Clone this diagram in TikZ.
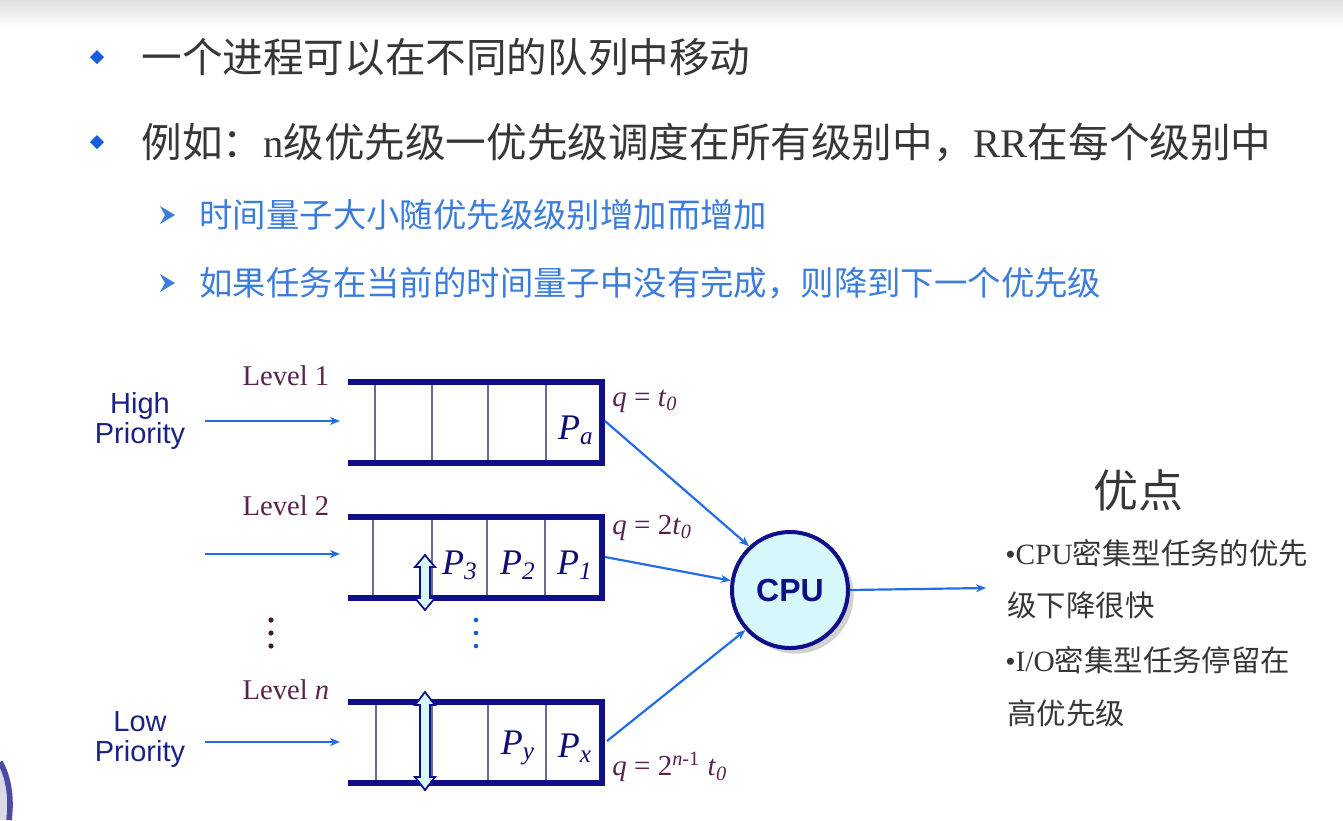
\documentclass[tikz,border=0pt]{standalone}
\usepackage{fontspec}
\setmainfont{Liberation Serif}
\newfontfamily\cjk{Noto Sans CJK SC}
\newfontfamily\arialf{Liberation Sans}
\usetikzlibrary{arrows.meta,shadows}

\definecolor{bodygray}{RGB}{55,55,55}
\definecolor{subblue}{RGB}{60,125,220}
\definecolor{dotblue}{RGB}{20,95,215}
\definecolor{navy}{RGB}{15,15,135}
\definecolor{divc}{RGB}{105,105,155}
\definecolor{arrowblue}{RGB}{35,110,230}
\definecolor{levelc}{RGB}{90,35,75}
\definecolor{prioc}{RGB}{25,35,130}
\definecolor{cyanfill}{RGB}{215,248,250}

\tikzset{
  qbar/.style={draw=navy, line width=3.2pt, line join=miter},
  qdiv/.style={draw=divc, line width=0.7pt},
  flow/.style={draw=arrowblue, line width=1.1pt, -{Stealth[length=5pt,width=4pt]}},
  txt/.style={inner sep=0pt, anchor=west},
  lvl/.style={inner sep=0pt, text=levelc, font=\fontsize{14.3}{16}\selectfont},
  pl/.style={inner sep=0pt, text=navy!85!black, font=\itshape\fontsize{18}{20}\selectfont},
  ql/.style={txt, text=levelc, font=\fontsize{14.5}{16}\selectfont},
  prio/.style={inner sep=0pt, align=center, text=prioc, font=\arialf\fontsize{14.5}{15}\selectfont},
  dbl/.style={fill=cyanfill, draw=navy, line width=0.9pt, line join=miter},
}

\begin{document}
\begin{tikzpicture}[x=0.5pt, y=-0.5pt]
\useasboundingbox (0,0) rectangle (1343,820);
\fill[white] (0,0) rectangle (1343,820);
\shade[top color=black!12, bottom color=white] (0,0) rectangle (1343,28);

% partial decoration at the lower left edge
\fill[blue!15!gray!25] (0,762) .. controls (8,776) and (12,796) .. (9,820) -- (0,820) -- cycle;
\draw[navy!75, line width=2.8pt] (0,762) .. controls (8,776) and (12,796) .. (9,820);

% ---------- bullet list ----------
\fill[dotblue] (97,50) -- (104,57) -- (97,64) -- (90,57) -- cycle;
\node[txt, text=bodygray, font=\cjk\fontsize{20.3}{24}\selectfont] (b1) at (141,57)
  {一个进程可以在不同的队列中移动};
\fill[dotblue] (97,135) -- (104,142) -- (97,149) -- (90,142) -- cycle;
\node[txt, text=bodygray, font=\fontsize{20.3}{24}\selectfont] (b2) at (141,142)
  {{\cjk 例如：}n{\cjk 级优先级一优先级调度在所有级别中，}RR{\cjk 在每个级别中}};

\fill[subblue] (160,206) -- (175,215) -- (160,224) -- (165,215) -- cycle;
\node[txt, text=subblue, font=\cjk\fontsize{16.7}{20}\selectfont] (s1) at (199,215)
  {时间量子大小随优先级级别增加而增加};
\fill[subblue] (160,274) -- (175,283) -- (160,292) -- (165,283) -- cycle;
\node[txt, text=subblue, font=\cjk\fontsize{16.7}{20}\selectfont] (s2) at (199,283)
  {如果任务在当前的时间量子中没有完成，则降到下一个优先级};

% ---------- priority labels ----------
\node[prio] (hp) at (140,421) {High\\Priority};
\node[prio] (lp) at (140,740) {Low\\Priority};

% ---------- level labels ----------
\node[lvl] (l1) at (286,376) {Level 1};
\node[lvl] (l2) at (286,506) {Level 2};
\node[lvl] (ln) at (286,690) {Level \textit{n}};

% ---------- queues ----------
% level 1
\foreach \x in {375,432,488,546} \draw[qdiv] (\x,382) -- (\x,463);
\draw[qbar] (348,382) -- (602,382) -- (602,463) -- (348,463);
% level 2
\foreach \x in {373,432,487,545} \draw[qdiv] (\x,517) -- (\x,598);
\draw[qbar] (348,517) -- (602,517) -- (602,598) -- (348,598);
% level n
\foreach \x in {376,432,488,546} \draw[qdiv] (\x,702) -- (\x,783);
\draw[qbar] (348,702) -- (602,702) -- (602,783) -- (348,783);

% process labels
\node[pl] (pa) at (576,430) {P\textsubscript{a}};
\node[pl] (p3) at (460,565) {P\textsubscript{3}};
\node[pl] (p2) at (518,565) {P\textsubscript{2}};
\node[pl] (p1) at (575,565) {P\textsubscript{1}};
\node[pl] (py) at (518,748) {P\textsubscript{y}};
\node[pl] (px) at (575,748) {P\textsubscript{x}};

% double-headed moves between levels
\draw[dbl] (425,555) -- (435,567) -- (430,567) -- (430,598) -- (435,598) -- (425,610)
  -- (415,598) -- (420,598) -- (420,567) -- (415,567) -- cycle;
\draw[dbl] (425,692) -- (435,705) -- (430,705) -- (430,777) -- (435,777) -- (425,790)
  -- (415,777) -- (420,777) -- (420,705) -- (415,705) -- cycle;

% vertical ellipses
\foreach \y in {620,633,646} {
  \fill[levelc!70!black] (271,\y) circle (2.6);
  \fill[dotblue] (476,\y) circle (2.3);
}

% quantum labels
\node[ql] (q1) at (612,401) {\textit{q} = \textit{t}\textsubscript{\textit{0}}};
\node[ql] (q2) at (612,528) {\textit{q} = 2\textit{t}\textsubscript{\textit{0}}};
\node[ql] (qn) at (612,767) {\textit{q} = 2\textsuperscript{\textit{n}-1} \textit{t}\textsubscript{\textit{0}}};

% ---------- CPU ----------
\node[circle, minimum size=58pt, inner sep=0pt, fill=cyanfill, draw=navy, line width=2pt,
  drop shadow={shadow xshift=2.8pt, shadow yshift=-2.8pt, fill=black!35},
  text=navy, font=\arialf\bfseries\fontsize{16}{18}\selectfont] (cpu) at (790,590) {CPU};

% ---------- connectors ----------
\coordinate (in1) at (205,421);
\coordinate (in2) at (205,554);
\coordinate (inn) at (205,742);
\coordinate (e1) at (340,421);
\coordinate (e2) at (340,554);
\coordinate (en) at (340,742);
\draw[flow] (in1) -- (e1);
\draw[flow] (in2) -- (e2);
\draw[flow] (inn) -- (en);

\coordinate (o1) at (605,421);
\coordinate (o2) at (605,557);
\coordinate (on) at (607,741);
\draw[flow] (o1) -- (cpu.133);
\draw[flow] (o2) -- (cpu.171);
\draw[flow] (on) -- (cpu.222);

\coordinate (out) at (986,588);
\draw[flow] (cpu.east) -- (out);

% ---------- advantages ----------
\node[inner sep=0pt, text=bodygray, font=\cjk\fontsize{22.5}{26}\selectfont] (adv) at (1138,490) {优点};
\node[txt, text=bodygray, font=\fontsize{14.7}{18}\selectfont] (a1) at (1005,553)
  {•CPU{\cjk 密集型任务的优先}};
\node[txt, text=bodygray, font=\cjk\fontsize{14.7}{18}\selectfont] (a2) at (1007,605)
  {级下降很快};
\node[txt, text=bodygray, font=\fontsize{14.7}{18}\selectfont] (a3) at (1005,660)
  {•I/O{\cjk 密集型任务停留在}};
\node[txt, text=bodygray, font=\cjk\fontsize{14.7}{18}\selectfont] (a4) at (1007,713)
  {高优先级};
\end{tikzpicture}
\end{document}
